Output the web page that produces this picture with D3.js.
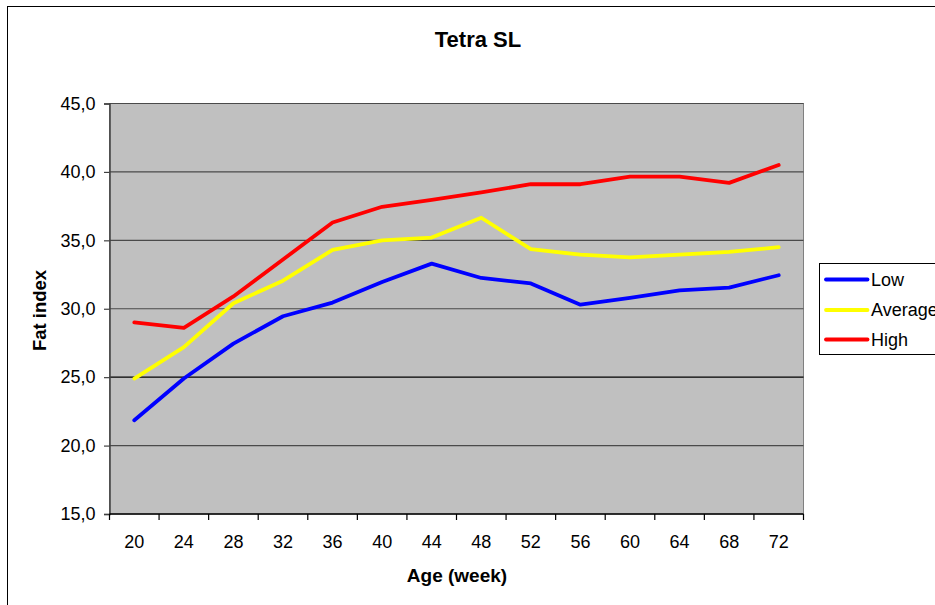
<!DOCTYPE html>
<html>
<head>
<meta charset="utf-8">
<script src="https://cdn.jsdelivr.net/npm/d3@7"></script>
<style>
  html, body { margin: 0; padding: 0; background: #fff; }
  svg { display: block; font-family: "Liberation Sans", Arial, sans-serif; }
</style>
</head>
<body>
<svg id="chart" width="935" height="605"></svg>
<script>
const categories = ["20","24","28","32","36","40","44","48","52","56","60","64","68","72"];
const lowValues = [21.85,24.9,27.45,29.45,30.45,31.95,33.3,32.25,31.85,30.3,30.8,31.35,31.55,32.45];
const averageValues = [24.9,27.2,30.4,32.05,34.3,35.0,35.2,36.65,34.35,33.95,33.75,33.95,34.15,34.5];
const highValues = [29.0,28.6,30.9,33.6,36.3,37.45,37.95,38.5,39.1,39.1,39.65,39.65,39.2,40.5];
const yTicks = [15,20,25,30,35,40,45];
const seriesNames = ["Low","Average","High"];
const seriesColors = ["#0000ff","#ffff00","#ff0000"];
const seriesValues = [lowValues, averageValues, highValues];

(function () {
const svg = d3.select("#chart");
const pLeft = 109.5, pRight = 803.5, pTop = 103.5, pBottom = 514;

// outer chart border
svg.append("rect").attr("x",7.5).attr("y",6.5).attr("width",1000).attr("height",700)
  .attr("fill","#fff").attr("stroke","#000").attr("stroke-width",1);

const x = d3.scaleBand().domain(categories).range([pLeft,pRight]).padding(0);
const y = d3.scaleLinear().domain([15,45]).range([pBottom,pTop]);

// plot background
svg.append("rect").attr("x",pLeft).attr("y",pTop).attr("width",pRight-pLeft).attr("height",pBottom-pTop)
  .attr("fill","#c0c0c0").attr("stroke","#808080").attr("stroke-width",1);

// gridlines
svg.append("g").selectAll("line").data(yTicks.filter(d=>d>15)).join("line")
  .attr("x1",pLeft).attr("x2",pRight).attr("y1",d=>y(d)).attr("y2",d=>y(d))
  .attr("stroke",d=>d===25?"#000":"#4a4a4a").attr("stroke-width",1.2);

// y axis
const yAxis = d3.axisLeft(y).tickValues(yTicks).tickSize(5.5).tickPadding(8)
  .tickFormat(d => d3.format(".1f")(d).replace(".", ","));
const gy = svg.append("g").attr("transform",`translate(${pLeft},0)`).call(yAxis);
gy.select(".domain").attr("stroke","#404040").attr("stroke-width",1.5);
gy.selectAll(".tick line").attr("stroke","#404040").attr("stroke-width",1.2);
gy.selectAll(".tick text").attr("font-size",18).attr("fill","#000")
  .attr("font-family","'Liberation Sans', Arial, sans-serif").attr("x",-14);

// x axis (labels)
const xAxis = d3.axisBottom(x).tickSize(0).tickPadding(21);
const gx = svg.append("g").attr("transform",`translate(0,${pBottom})`).call(xAxis);
gx.select(".domain").remove();
gx.selectAll(".tick text").attr("font-size",18).attr("fill","#000")
  .attr("font-family","'Liberation Sans', Arial, sans-serif");

// x axis line and boundary ticks
svg.append("line").attr("x1",pLeft).attr("x2",pRight).attr("y1",pBottom).attr("y2",pBottom)
  .attr("stroke","#000").attr("stroke-width",1.5);
const boundaries = categories.map(c => x(c)).concat([x(categories[categories.length-1]) + x.bandwidth()]);
svg.append("g").selectAll("line").data(boundaries).join("line")
  .attr("x1",d=>d).attr("x2",d=>d).attr("y1",pBottom).attr("y2",pBottom+6)
  .attr("stroke","#000").attr("stroke-width",1.2);

// lines
const line = d3.line().x((d,i)=>x(categories[i])+x.bandwidth()/2).y(d=>y(d));
seriesValues.forEach((vals,k) => {
  svg.append("path").datum(vals).attr("d",line).attr("fill","none")
    .attr("stroke",seriesColors[k]).attr("stroke-width",3.8)
    .attr("stroke-linejoin","round").attr("stroke-linecap","round");
});

// title
svg.append("text").attr("x",478).attr("y",46.5).attr("text-anchor","middle")
  .attr("font-size",22).attr("font-weight","bold").text("Tetra SL");

// axis titles
svg.append("text").attr("x",457).attr("y",581.5).attr("text-anchor","middle")
  .attr("font-size",19).attr("font-weight","bold").text("Age (week)");
svg.append("text").attr("transform","translate(45.5,310.5) rotate(-90)").attr("text-anchor","middle")
  .attr("font-size",18.5).attr("font-weight","bold").text("Fat index");

// legend
const lg = svg.append("g");
lg.append("rect").attr("x",819.5).attr("y",263.5).attr("width",200).attr("height",91)
  .attr("fill","#fff").attr("stroke","#000").attr("stroke-width",1);
const legendY = [279.5, 310, 339.5];
seriesNames.forEach((name,k) => {
  lg.append("line").attr("x1",826).attr("x2",867.5).attr("y1",legendY[k]).attr("y2",legendY[k])
    .attr("stroke",seriesColors[k]).attr("stroke-width",3.8).attr("stroke-linecap","round");
  lg.append("text").attr("x",871).attr("y",legendY[k]+6.3).attr("font-size",18).text(name);
});
})();
</script>
</body>
</html>
